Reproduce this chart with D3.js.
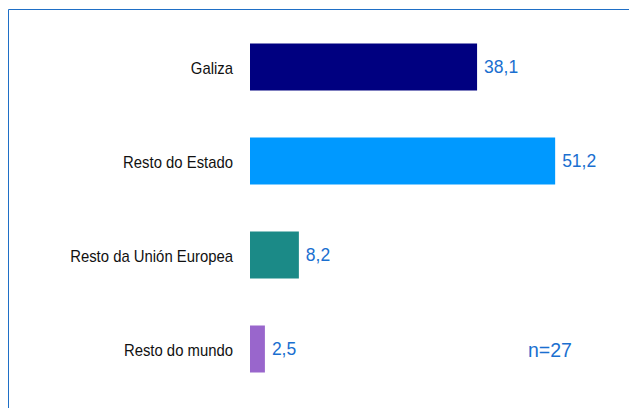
<!DOCTYPE html>
<html><head><meta charset="utf-8">
<script src="https://cdn.jsdelivr.net/npm/d3@7"></script>
<style>body{margin:0;background:#fff}svg{display:block}</style>
</head><body>
<script>
const categories = ["Galiza", "Resto do Estado", "Resto da Unión Europea", "Resto do mundo"];
const values = [38.1, 51.2, 8.2, 2.5];
const colors = ["#000080", "#0099ff", "#1b8a87", "#9966cc"];
const note = "n=27";

const W = 629, H = 408;
const svg = d3.select("body").append("svg").attr("width", W).attr("height", H);

// frame
svg.append("path").attr("d", `M8.5,${H} V9.5 H${W}`).attr("fill","none").attr("stroke","#1f6fc6").attr("stroke-width",1);

const x = d3.scaleLinear().domain([0, 60]).range([250, 250 + 60*5.96]);
const y = d3.scaleBand().domain(categories).range([20, 396]).paddingInner(0.5).paddingOuter(0.25);

const g = svg.append("g");
g.selectAll("rect").data(categories).join("rect")
  .attr("x", x(0)).attr("y", d => y(d))
  .attr("width", (d,i) => x(values[i]) - x(0))
  .attr("height", y.bandwidth())
  .attr("fill", (d,i) => colors[i]);

g.selectAll("text.cat").data(categories).join("text").attr("class","cat")
  .attr("transform", d => `translate(233,${y(d) + y.bandwidth()/2 + 6.5}) scale(0.93,1)`)
  .attr("text-anchor","end").attr("font-family","Liberation Sans, Arial, sans-serif")
  .attr("font-size", 16).attr("fill","#111").text(d => d);

g.selectAll("text.val").data(categories).join("text").attr("class","val")
  .attr("x", (d,i) => x(values[i]) + 7).attr("y", d => y(d) + y.bandwidth()/2 + 6.3)
  .attr("font-family","Liberation Sans, Arial, sans-serif")
  .attr("font-size", 17.5).attr("fill","#1a6fd0")
  .text((d,i) => d3.format(".1f")(values[i]).replace(".", ","));

svg.append("text").attr("x", 528).attr("y", 357)
  .attr("font-family","Liberation Sans, Arial, sans-serif")
  .attr("font-size", 19.5).attr("fill","#1a6fd0").text(note);
</script>
</body></html>
